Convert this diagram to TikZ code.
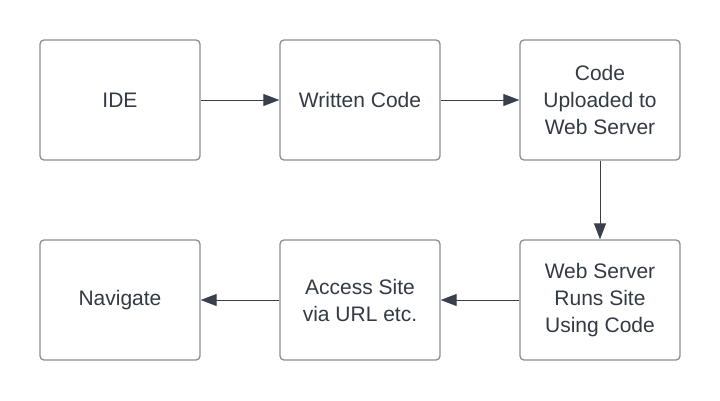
\documentclass[tikz,border=0pt]{standalone}
\usepackage{fontspec}
\setmainfont{Liberation Sans}
\usetikzlibrary{arrows.meta}
\definecolor{boxline}{HTML}{8A8D93}
\definecolor{arrowc}{HTML}{3A3F4B}
\definecolor{txt}{HTML}{333A45}
\begin{document}
\begin{tikzpicture}[x=1pt,y=-1pt,
  stepbox/.style={draw=boxline,line width=1.3pt,rounded corners=4pt,minimum width=160pt,minimum height=120pt,
    align=center,text=txt,font=\fontsize{21}{27}\selectfont,inner sep=0pt},
  conn/.style={draw=arrowc,line width=1pt,-{Triangle[length=16pt,width=12pt]}}]
\useasboundingbox (0,0) rectangle (720,400);
\fill[white] (0,0) rectangle (720,400);
\node[stepbox] (ide) at (120,100) {IDE};
\node[stepbox] (wc) at (360,100) {Written Code};
\node[stepbox] (up) at (600,100) {Code\\Uploaded to\\Web Server};
\node[stepbox] (ws) at (600,300) {Web Server\\Runs Site\\Using Code};
\node[stepbox] (acc) at (360,300) {Access Site\\via URL etc.};
\node[stepbox] (nav) at (120,300) {Navigate};
\draw[conn] (ide) -- (wc);
\draw[conn] (wc) -- (up);
\draw[conn] (up) -- (ws);
\draw[conn] (ws) -- (acc);
\draw[conn] (acc) -- (nav);
\end{tikzpicture}
\end{document}
